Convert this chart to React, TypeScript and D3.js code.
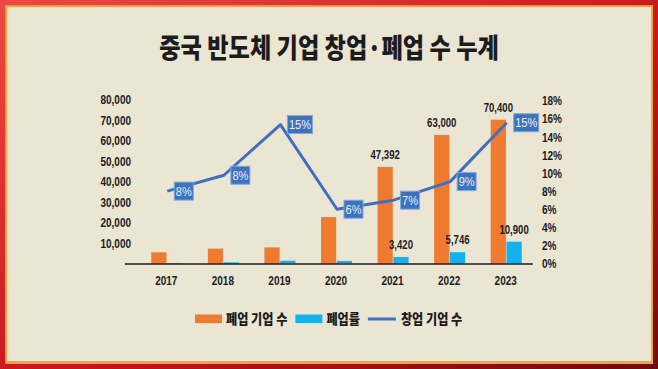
import { useEffect, useRef } from 'react';
import * as d3 from 'd3';

const years = ['2017', '2018', '2019', '2020', '2021', '2022', '2023'];
// 폐업 기업 수 (orange bars)
const closedCounts = [5700, 7500, 8100, 22900, 47392, 63000, 70400];
const closedLabels = ['', '', '', '', '47,392', '63,000', '70,400'];
// 폐업률 (cyan bars, drawn on the left axis)
const closedRate = [300, 800, 1600, 1500, 3420, 5746, 10900];
const rateLabels = ['', '', '', '', '3,420', '5,746', '10,900'];
// 창업 기업 수 (line on the right % axis)
const startupLine = [8.05, 9.8, 15.4, 6.05, 7.05, 9.1, 15.6];
const startupLabels = ['8%', '8%', '15%', '6%', '7%', '9%', '15%'];
const leftTicks = [10000, 20000, 30000, 40000, 50000, 60000, 70000, 80000];
const rightTicks = [0, 2, 4, 6, 8, 10, 12, 14, 16, 18];

const W = 658;
const H = 369;
const NUM_FONT = "'Liberation Sans', Arial, sans-serif";
const KR_FONT = "'Noto Sans CJK KR', 'Noto Sans', sans-serif";
const NARROW = 0.8;

// condensed text: place at (x, y) and squeeze horizontally
const squeeze = (x, y, s = NARROW) => `translate(${x},${y}) scale(${s},1)`;

const App = () => {
  const svgRef = useRef(null);

  useEffect(() => {
    const svg = d3.select(svgRef.current);
    svg.selectAll('*').remove();

    // frame
    const defs = svg.append('defs');
    const grad = defs.append('linearGradient')
      .attr('id', 'frame')
      .attr('x1', '0').attr('y1', '0').attr('x2', '1').attr('y2', '1');
    grad.append('stop').attr('offset', '0%').attr('stop-color', '#ec4a43');
    grad.append('stop').attr('offset', '55%').attr('stop-color', '#c8161c');
    grad.append('stop').attr('offset', '100%').attr('stop-color', '#6e0b10');

    svg.append('rect').attr('width', W).attr('height', H).attr('fill', 'url(#frame)');
    svg.append('rect')
      .attr('x', 5).attr('y', 5).attr('width', W - 10).attr('height', H - 10)
      .attr('fill', '#f4a53a');
    svg.append('rect')
      .attr('x', 7).attr('y', 7).attr('width', W - 14).attr('height', H - 15)
      .attr('fill', '#ebe5d3');

    // title
    svg.append('text')
      .attr('transform', squeeze(329, 58, 0.86))
      .attr('text-anchor', 'middle')
      .style('font-family', KR_FONT)
      .style('font-weight', 900)
      .style('font-size', '27px')
      .attr('fill', '#1c1c1c')
      .text('중국 반도체 기업 창업·폐업 수 누계');

    // scales
    const x = d3.scaleBand().domain(years).range([138, 534]);
    const sub = d3.scaleBand().domain(['closed', 'rate']).range([-15, 16]).paddingInner(0.04);
    const yLeft = d3.scaleLinear().domain([0, 80000]).range([264, 100]);
    const yRight = d3.scaleLinear().domain([0, 18]).range([264, 101]);
    const cx = (d) => x(d) + x.bandwidth() / 2;

    const g = svg.append('g');

    const numText = (sel, size = '12.5px') => sel
      .style('font-family', NUM_FONT)
      .style('font-weight', 700)
      .style('font-size', size)
      .attr('fill', '#1c1c1c');

    // left axis labels
    g.append('g').selectAll('text')
      .data(leftTicks)
      .enter()
      .append('text')
      .attr('transform', d => squeeze(131, yLeft(d)))
      .attr('dy', '0.35em')
      .attr('text-anchor', 'end')
      .call(numText)
      .text(d => d3.format(',')(d));

    // right axis labels
    g.append('g').selectAll('text')
      .data(rightTicks)
      .enter()
      .append('text')
      .attr('transform', d => squeeze(542, yRight(d)))
      .attr('dy', '0.35em')
      .call(numText)
      .text(d => `${d}%`);

    // bars
    g.append('g').selectAll('rect')
      .data(years)
      .enter()
      .append('rect')
      .attr('x', d => cx(d) + sub('closed'))
      .attr('width', sub.bandwidth())
      .attr('y', (d, i) => yLeft(closedCounts[i]))
      .attr('height', (d, i) => yLeft(0) - yLeft(closedCounts[i]))
      .attr('fill', '#ee7b30');

    g.append('g').selectAll('rect')
      .data(years)
      .enter()
      .append('rect')
      .attr('x', d => cx(d) + sub('rate'))
      .attr('width', sub.bandwidth())
      .attr('y', (d, i) => yLeft(closedRate[i]))
      .attr('height', (d, i) => yLeft(0) - yLeft(closedRate[i]))
      .attr('fill', '#12b2ee');

    // baseline
    g.append('line')
      .attr('x1', 125).attr('x2', 533)
      .attr('y1', yLeft(0)).attr('y2', yLeft(0))
      .attr('stroke', '#1e1e1e')
      .attr('stroke-width', 1.5);

    // bar value labels
    const valueLabel = (data, labels, key) => {
      g.append('g').selectAll('text')
        .data(years)
        .enter()
        .append('text')
        .attr('transform', (d, i) => squeeze(cx(d) + sub(key) + sub.bandwidth() / 2, yLeft(data[i]) - 8))
        .attr('text-anchor', 'middle')
        .call(numText, '12px')
        .text((d, i) => labels[i]);
    };
    valueLabel(closedCounts, closedLabels, 'closed');
    valueLabel(closedRate, rateLabels, 'rate');

    // x labels
    g.append('g').selectAll('text')
      .data(years)
      .enter()
      .append('text')
      .attr('transform', d => squeeze(cx(d), 285))
      .attr('text-anchor', 'middle')
      .call(numText)
      .text(d => d);

    // startup line
    const line = d3.line()
      .x((d, i) => cx(years[i]) + 1)
      .y(d => yRight(d));

    g.append('path')
      .datum(startupLine)
      .attr('fill', 'none')
      .attr('stroke', '#3f6fbf')
      .attr('stroke-width', 3)
      .attr('stroke-linejoin', 'round')
      .attr('d', line);

    // percent boxes
    const boxes = g.append('g').selectAll('g')
      .data(startupLine)
      .enter()
      .append('g')
      .attr('transform', (d, i) => `translate(${cx(years[i]) + 8},${yRight(d)})`);

    boxes.append('rect')
      .attr('y', -9)
      .attr('height', 18)
      .attr('width', (d, i) => (startupLabels[i].length > 2 ? 25 : 19))
      .attr('fill', '#3d72bd')
      .attr('stroke', '#80a8df')
      .attr('stroke-width', 1);

    boxes.append('text')
      .attr('transform', (d, i) => squeeze(startupLabels[i].length > 2 ? 12.5 : 9.5, 0, 0.85))
      .attr('dy', '0.36em')
      .attr('text-anchor', 'middle')
      .style('font-family', NUM_FONT)
      .style('font-weight', 400)
      .style('font-size', '13px')
      .attr('fill', '#e8f0fb')
      .text((d, i) => startupLabels[i]);

    // legend
    const legend = svg.append('g');
    const items = [
      { name: '폐업 기업 수', type: 'bar', color: '#ee7b30' },
      { name: '폐업률', type: 'bar', color: '#12b2ee' },
      { name: '창업 기업 수', type: 'line', color: '#3f6fbf' },
    ];
    const LS = 0.9;
    let lx = 195;
    const ly = 319;
    items.forEach((it) => {
      if (it.type === 'bar') {
        legend.append('rect')
          .attr('x', lx).attr('y', ly - 4.5)
          .attr('width', 27).attr('height', 8.5)
          .attr('fill', it.color);
        lx += 31;
      } else {
        legend.append('line')
          .attr('x1', lx).attr('x2', lx + 28)
          .attr('y1', ly).attr('y2', ly)
          .attr('stroke', it.color)
          .attr('stroke-width', 3);
        lx += 33;
      }
      const t = legend.append('text')
        .attr('transform', squeeze(lx, ly, LS))
        .attr('dy', '0.36em')
        .style('font-family', KR_FONT)
        .style('font-weight', 900)
        .style('font-size', '13.5px')
        .attr('fill', '#1c1c1c')
        .text(it.name);
      lx += t.node().getComputedTextLength() * LS + 8;
    });
  }, []);

  return (
    <svg
      ref={svgRef}
      width={W}
      height={H}
      style={{ position: 'absolute', left: 0, top: 0, display: 'block' }}
    />
  );
};

export default App;
